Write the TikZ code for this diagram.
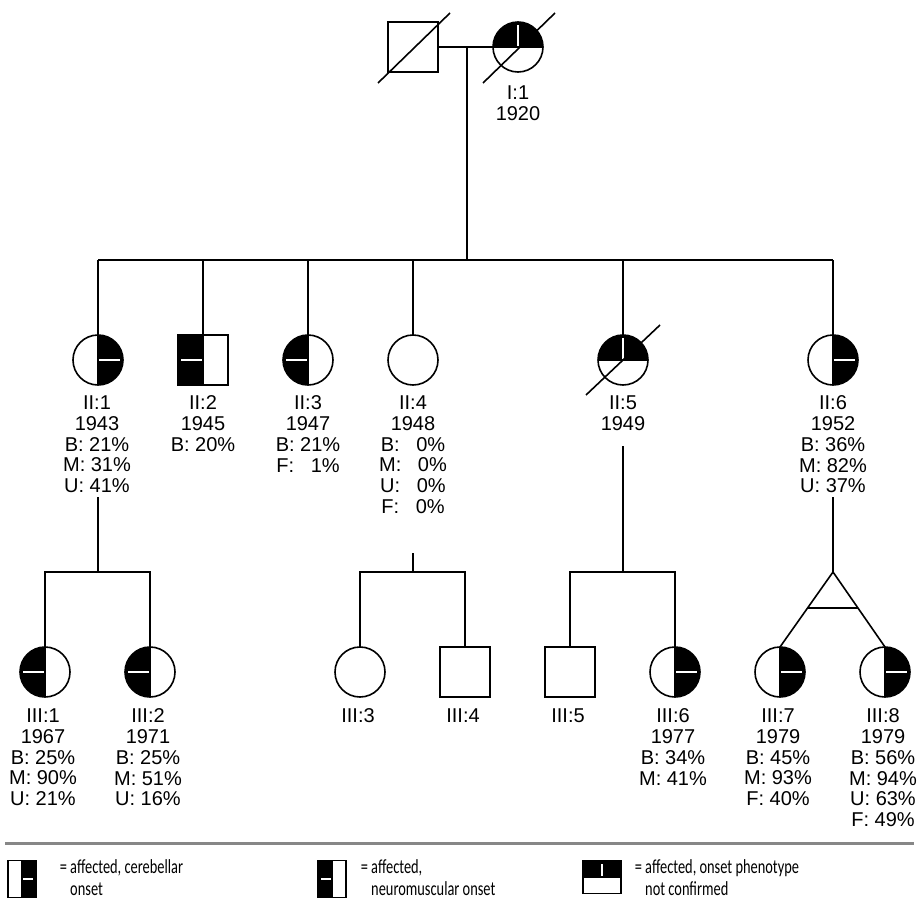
\documentclass[tikz,border=0pt]{standalone}
\usepackage{fontspec}
\setmainfont{Liberation Sans}
\newfontfamily\legfont[FakeStretch=0.72]{Carlito}
\usetikzlibrary{calc}
\tikzset{
  sym/.style={draw, line width=1.6pt, inner sep=0pt, outer sep=0pt, minimum size=50pt},
  fem/.style={sym, circle},
  mal/.style={sym, rectangle},
  rblack/.style={path picture={
    \fill[black] (path picture bounding box.north) rectangle (path picture bounding box.south east);
    \draw[white, line width=1.6pt] (path picture bounding box.center) -- ([xshift=-3pt]path picture bounding box.east);
    \draw[black, line width=1.6pt] (path picture bounding box.north) -- (path picture bounding box.south);}},
  lblack/.style={path picture={
    \fill[black] (path picture bounding box.north west) rectangle (path picture bounding box.south);
    \draw[white, line width=1.6pt] (path picture bounding box.center) -- ([xshift=3pt]path picture bounding box.west);
    \draw[black, line width=1.6pt] (path picture bounding box.north) -- (path picture bounding box.south);}},
  tblack/.style={path picture={
    \fill[black] (path picture bounding box.north west) rectangle (path picture bounding box.east);
    \draw[white, line width=1.6pt] (path picture bounding box.center) -- ([yshift=-3pt]path picture bounding box.north);
    \draw[black, line width=1.6pt] (path picture bounding box.west) -- (path picture bounding box.east);}},
  lab/.style={font=\fontsize{20}{20.8}\selectfont, align=center, anchor=north, inner sep=0pt},
  leg/.style={font=\legfont\fontsize{20}{22}\selectfont, align=left, anchor=north west, inner sep=0pt},
  legbox/.style={draw, rectangle, line width=1.3pt, inner sep=0pt, outer sep=0pt},
}
\begin{document}
\begin{tikzpicture}[x=1pt, y=-1pt, line width=1.6pt]
\useasboundingbox (0,0) rectangle (919,905);

% Generation I
\node[mal] (f) at (413,47) {};
\node[fem, tblack] (I1) at (518,47) {};
\draw (f.center) ++(-35,36) -- ++(72,-70);
\draw (I1.center) ++(-35,36) -- ++(72,-70);
\draw (f.east) -- (I1.west);
\node[lab] (tI1) at (518,85) {I:1\\1920};
\coordinate (m1) at (467,47);
\coordinate (s1) at (467,260);
\draw (m1) -- (s1);

% Generation II
\node[fem, rblack] (II1) at (98,360) {};
\node[mal, lblack] (II2) at (203,360) {};
\node[fem, lblack] (II3) at (308,360) {};
\node[fem] (II4) at (413,360) {};
\node[fem, tblack] (II5) at (623,360) {};
\node[fem, rblack] (II6) at (833,360) {};
\draw (II5.center) ++(-37,35) -- ++(74,-70);
\draw (II1.north |- s1) -- (II6.north |- s1);
\foreach \n in {II1,II2,II3,II4,II5,II6} {\draw (\n.north) -- (\n.north |- s1);}

\node[lab] (tII1) at (97,395) {II:1\\1943\\B: 21\%\\M: 31\%\\U: 41\%};
\node[lab] (tII2) at (203,395) {II:2\\1945\\B: 20\%};
\node[lab] (tII3) at (308,395) {II:3\\1947\\B: 21\%\\F: \phantom{2}1\%};
\node[lab] (tII4) at (413,395) {II:4\\1948\\B: \phantom{0}0\%\\M: \phantom{0}0\%\\U: \phantom{0}0\%\\F: \phantom{0}0\%};
\node[lab] (tII5) at (623,395) {II:5\\1949};
\node[lab] (tII6) at (833,395) {II:6\\1952\\B: 36\%\\M: 82\%\\U: 37\%};

% Generation III
\node[fem, lblack] (III1) at (45,672) {};
\node[fem, lblack] (III2) at (150,672) {};
\node[fem] (III3) at (360,672) {};
\node[mal] (III4) at (465,672) {};
\node[mal] (III5) at (570,672) {};
\node[fem, rblack] (III6) at (675,672) {};
\node[fem, rblack] (III7) at (780,672) {};
\node[fem, rblack] (III8) at (885,672) {};

\coordinate (d1) at (98,497); \coordinate (s2) at (98,572);
\draw (d1) -- (s2);
\draw (III1.north) -- (III1.north |- s2) -- (III2.north |- s2) -- (III2.north);

\coordinate (d4) at (413,553); \coordinate (s4) at (413,572);
\draw (d4) -- (s4);
\draw (III3.north) -- (III3.north |- s4) -- (III4.north |- s4) -- (III4.north);

\coordinate (d5) at (623,446); \coordinate (s5) at (623,572);
\draw (d5) -- (s5);
\draw (III5.north) -- (III5.north |- s5) -- (III6.north |- s5) -- (III6.north);

\coordinate (d6) at (833,497); \coordinate (apex) at (833,572);
\draw (d6) -- (apex);
\draw (III7.north) -- (apex) -- (III8.north);
\draw ($(apex)!0.48!(III7.north)$) -- ($(apex)!0.48!(III8.north)$);

\node[lab] (tIII1) at (43,708) {III:1\\1967\\B: 25\%\\M: 90\%\\U: 21\%};
\node[lab] (tIII2) at (148,708) {III:2\\1971\\B: 25\%\\M: 51\%\\U: 16\%};
\node[lab] (tIII3) at (358,708) {III:3};
\node[lab] (tIII4) at (463,708) {III:4};
\node[lab] (tIII5) at (568,708) {III:5};
\node[lab] (tIII6) at (673,708) {III:6\\1977\\B: 34\%\\M: 41\%};
\node[lab] (tIII7) at (778,708) {III:7\\1979\\B: 45\%\\M: 93\%\\F: 40\%};
\node[lab] (tIII8) at (883,708) {III:8\\1979\\B: 56\%\\M: 94\%\\U: 63\%\\F: 49\%};

% Legend
\coordinate (gl) at (5,843); \coordinate (gr) at (914,843);
\draw[line width=3pt, black!47] (gl) -- (gr);
\node[legbox, rblack, minimum width=28pt, minimum height=37pt] (L1) at (22,879) {};
\node[legbox, lblack, minimum width=28pt, minimum height=37pt] (L2) at (332,879) {};
\node[legbox, tblack, minimum width=38pt, minimum height=33pt] (L3) at (602,877) {};
\node[leg] (tL1) at (59,859) {= affected, cerebellar\\\hphantom{= }onset};
\node[leg] (tL2) at (360,859) {= affected,\\\hphantom{= }neuromuscular onset};
\node[leg] (tL3) at (634,859) {= affected, onset phenotype\\\hphantom{= }not confirmed};
\end{tikzpicture}
\end{document}
